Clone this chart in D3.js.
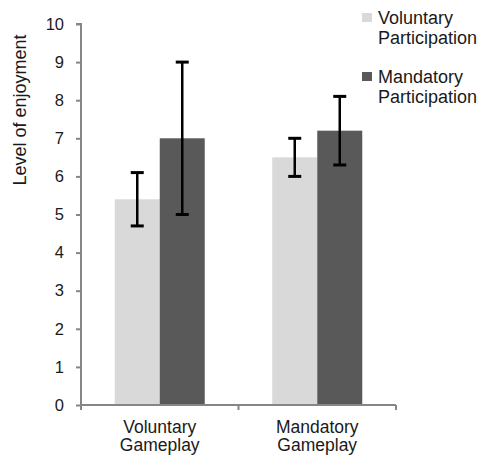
<!DOCTYPE html>
<html>
<head>
<meta charset="utf-8">
<script src="https://cdn.jsdelivr.net/npm/d3@7"></script>
<style>
  html, body { margin: 0; padding: 0; background: #fff; }
  svg { display: block; font-family: "Liberation Sans", Arial, sans-serif; }
</style>
</head>
<body>
<svg id="chart" width="478" height="455"></svg>
<script>
const categories = [["Voluntary", "Gameplay"], ["Mandatory", "Gameplay"]];
const categoryKeys = ["Voluntary Gameplay", "Mandatory Gameplay"];
const seriesNames = [["Voluntary", "Participation"], ["Mandatory", "Participation"]];
const seriesKeys = ["Voluntary Participation", "Mandatory Participation"];
const voluntaryValues = [5.4, 6.5];
const voluntaryLow = [4.7, 6.0];
const voluntaryHigh = [6.1, 7.0];
const mandatoryValues = [7.0, 7.2];
const mandatoryLow = [5.0, 6.3];
const mandatoryHigh = [9.0, 8.1];
const yTicks = [0, 1, 2, 3, 4, 5, 6, 7, 8, 9, 10];
const colors = ["#d9d9d9", "#595959"];

const svg = d3.select("#chart");
const mLeft = 81, mRight = 396, mTop = 24, mBottom = 405;

const y = d3.scaleLinear().domain([0, 10]).range([mBottom, mTop]);
const x0 = d3.scaleBand().domain(categoryKeys).range([mLeft, mRight]).paddingInner(0).paddingOuter(0);
const x1 = d3.scaleBand().domain(seriesKeys).range([0, x0.bandwidth()]).paddingInner(0).paddingOuter(0.75);

const data = [];
categoryKeys.forEach((c, i) => {
  data.push({cat: c, ser: seriesKeys[0], v: voluntaryValues[i], lo: voluntaryLow[i], hi: voluntaryHigh[i], color: colors[0]});
  data.push({cat: c, ser: seriesKeys[1], v: mandatoryValues[i], lo: mandatoryLow[i], hi: mandatoryHigh[i], color: colors[1]});
});

// bars
svg.append("g").selectAll("rect").data(data).join("rect")
  .attr("x", d => x0(d.cat) + x1(d.ser))
  .attr("y", d => y(d.v))
  .attr("width", x1.bandwidth())
  .attr("height", d => y(0) - y(d.v))
  .attr("fill", d => d.color);

// y axis
const yAxis = svg.append("g")
  .attr("transform", `translate(${mLeft},0)`)
  .call(d3.axisLeft(y).tickValues(yTicks).tickSize(5).tickPadding(12).tickFormat(d3.format("d")));
yAxis.select(".domain").attr("stroke", "#868686").attr("stroke-width", 2).attr("d", `M-5,${y(10)}H0V${y(0)}`);
yAxis.selectAll(".tick line").attr("stroke", "#868686").attr("stroke-width", 2);
yAxis.selectAll(".tick text").attr("font-size", 16.5).attr("fill", "#1a1a1a")
  .attr("font-family", "Liberation Sans, Arial, sans-serif");

// x axis
const xAxisG = svg.append("g").attr("transform", `translate(0,${mBottom})`);
xAxisG.append("line").attr("x1", mLeft).attr("x2", mRight).attr("y1", 0).attr("y2", 0)
  .attr("stroke", "#868686").attr("stroke-width", 2);
const boundaries = categoryKeys.map(c => x0(c)).concat([x0(categoryKeys[categoryKeys.length - 1]) + x0.bandwidth()]);
xAxisG.selectAll("line.bt").data(boundaries).join("line").attr("class", "bt")
  .attr("x1", d => d).attr("x2", d => d).attr("y1", 0).attr("y2", 5)
  .attr("stroke", "#868686").attr("stroke-width", 2);
xAxisG.selectAll("text.xl").data(categories).join("text").attr("class", "xl")
  .attr("x", (d, i) => x0(categoryKeys[i]) + x0.bandwidth() / 2)
  .attr("y", 28)
  .attr("text-anchor", "middle")
  .attr("font-size", 17.5).attr("fill", "#1a1a1a")
  .each(function(d) {
    const t = d3.select(this);
    d.forEach((line, j) => t.append("tspan").attr("x", t.attr("x")).attr("dy", j === 0 ? 0 : 17.5).text(line));
  });

// error bars
const eb = svg.append("g").selectAll("g").data(data).join("g")
  .attr("transform", d => `translate(${x0(d.cat) + x1(d.ser) + x1.bandwidth() / 2},0)`);
eb.append("line").attr("x1", 0).attr("x2", 0).attr("y1", d => y(d.hi)).attr("y2", d => y(d.lo))
  .attr("stroke", "#000").attr("stroke-width", 2.5);
eb.append("line").attr("x1", -6.5).attr("x2", 6.5).attr("y1", d => y(d.hi)).attr("y2", d => y(d.hi))
  .attr("stroke", "#000").attr("stroke-width", 3);
eb.append("line").attr("x1", -6.5).attr("x2", 6.5).attr("y1", d => y(d.lo)).attr("y2", d => y(d.lo))
  .attr("stroke", "#000").attr("stroke-width", 3);

// y label
svg.append("text")
  .attr("transform", `translate(26,110) rotate(-90)`)
  .attr("text-anchor", "middle")
  .attr("font-size", 18).attr("fill", "#1a1a1a")
  .text("Level of enjoyment");

// legend
const legendY = [13, 72];
const lg = svg.append("g").selectAll("g").data(seriesNames).join("g")
  .attr("transform", (d, i) => `translate(362,${legendY[i]})`);
lg.append("rect").attr("width", 10).attr("height", 9).attr("fill", (d, i) => colors[i]);
lg.append("text").attr("x", 16).attr("y", 10.5)
  .attr("font-size", 18).attr("fill", "#1a1a1a")
  .each(function(d) {
    const t = d3.select(this);
    d.forEach((line, j) => t.append("tspan").attr("x", 16).attr("dy", j === 0 ? 0 : 20).text(line));
  });
</script>
</body>
</html>
